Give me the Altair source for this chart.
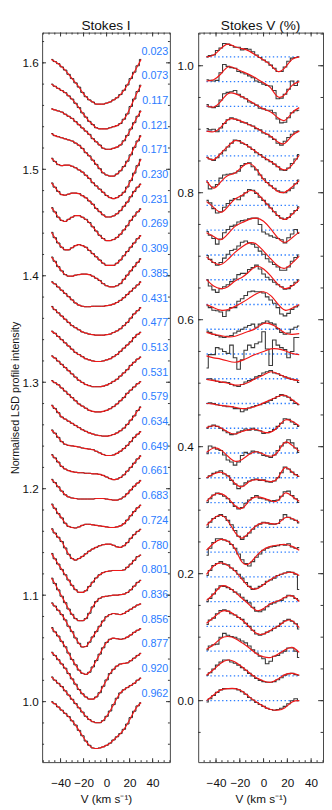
import altair as alt
import pandas as pd

# ---------------- data ----------------
PHASES = ["0.023", "0.073", "0.117", "0.121", "0.171", "0.230", "0.231", "0.269", "0.309",
          "0.385", "0.431", "0.477", "0.513", "0.531", "0.579", "0.634", "0.649", "0.661",
          "0.683", "0.724", "0.780", "0.801", "0.836", "0.856", "0.877", "0.920", "0.962"]

# velocity bins of the observed LSD profiles (km/s)
VEL = [-48, -45, -42, -39, -36, -33, -30, -27, -24, -21, -18, -15, -12, -9, -6, -3,
       0, 3, 6, 9, 12, 15, 18, 21, 24, 27, 30]
# velocity nodes of the model (fitted) Stokes V curves (km/s)
VEL_MODEL = [-48, -42, -36, -30, -24, -18, -12, -6, 0, 6, 12, 18, 24, 30]

# Stokes I line depth below continuum, in units of 0.001, one row per phase
I_DEPTH = [
    [0, 2, 4, 7, 10, 14, 18, 22, 26, 31, 35, 38, 40, 42, 42, 42, 41, 40, 38, 36, 33, 29, 24, 18, 12, 6, 0],
    [0, 2, 4, 6, 8, 11, 14, 18, 22, 27, 31, 35, 38, 41, 42, 42, 42, 41, 40, 39, 37, 33, 28, 21, 14, 7, 1],
    [0, 1, 2, 3, 5, 7, 9, 12, 15, 18, 21, 24, 28, 31, 34, 37, 38, 38, 37, 36, 34, 30, 25, 19, 13, 7, 2],
    [0, 2, 3, 4, 5, 6, 7, 9, 11, 14, 18, 21, 25, 29, 33, 37, 39, 40, 40, 38, 35, 31, 26, 20, 13, 7, 2],
    [0, 3, 6, 7, 6.5, 6.5, 7.5, 9, 11, 13, 16, 19, 23, 26, 29, 32, 35, 37, 38, 37, 35, 32, 27, 21, 14, 7, 1],
    [0, 4, 8, 11, 11.5, 10.5, 9.5, 9.5, 10, 12, 14, 17, 20, 24, 27, 30, 32, 32, 31, 29, 26, 22, 18, 13, 8, 4, 1],
    [0, 4, 9, 12, 13, 11, 9, 7.5, 7.5, 9, 11, 14, 18, 22, 26, 29, 31, 31, 30, 28, 25, 21, 17, 12, 8, 4, 1],
    [0, 5, 10, 14, 16.5, 16.5, 14.5, 12.5, 11.5, 12.5, 14, 17, 20, 23, 26, 29, 31, 31, 31, 29, 26, 22, 18, 14, 10, 6, 3],
    [0, 4, 9, 13, 16.5, 18, 18, 17, 16.5, 16, 16, 16.5, 18, 20, 22, 25, 27, 28, 28, 27, 25, 21, 17, 13, 9, 5, 1.5],
    [0, 2, 5, 8, 11, 14, 17, 20, 22, 23, 23.5, 23.5, 23, 23, 23, 23, 22.5, 22, 21, 19.5, 17.5, 15, 12, 9, 6, 3, 0],
    [0, 3, 6, 9, 12, 15, 18, 20, 22, 24, 25, 26, 26.5, 27, 27, 27, 26.5, 26, 24.5, 23, 21, 18, 15, 11, 7, 4, 1],
    [0, 2, 5, 8, 11, 14, 17, 20, 22, 24, 26, 27, 28, 28.5, 28.5, 28, 27, 26, 24, 22, 19, 16, 13, 10, 6, 3, 1],
    [0, 2, 5, 8, 11, 14, 17, 20, 23, 25, 27, 28, 29, 29, 29, 28.5, 27.5, 26, 24, 22, 19, 16, 13, 9, 6, 3, 1],
    [0, 2, 4, 7, 10, 13, 16, 19, 22, 24, 26, 28, 29, 29.5, 29.5, 29, 28, 26.5, 24.5, 22, 19, 16, 12, 9, 6, 3, 1],
    [0, 3, 7, 11, 13, 15, 17, 19, 21, 23, 24.5, 26, 27, 28, 28.5, 29, 29, 28.5, 27.5, 26, 24, 21.5, 18, 14, 10, 5, 1.5],
    [0, 3, 7, 11, 13.5, 14.5, 15, 15.5, 16, 17, 17.5, 18, 18.5, 20, 21.5, 23, 24, 24, 23.5, 22, 20, 17.5, 14.5, 11, 7, 4, 1.5],
    [0, 3, 7, 11, 13.5, 15, 16, 16.5, 17, 17, 17.5, 17.5, 18, 18, 18.5, 19.5, 21, 22.5, 23.5, 23, 21.5, 19, 15.5, 12, 8, 4, 1],
    [0, 3, 7, 11, 14.5, 16.5, 17.5, 18, 18.5, 18.5, 18.5, 18.5, 18.5, 18, 18, 18, 18.5, 19, 19.5, 19.5, 18.5, 16.5, 13.5, 10, 6.5, 3.5, 1],
    [0, 4, 9, 13, 18, 21, 22, 22.5, 21.5, 20, 19, 19, 19.5, 20, 20.5, 21, 21.5, 22, 22, 21.5, 20.5, 18.5, 15, 11, 7, 3.5, 1],
    [0, 4, 8, 12, 18, 24, 28, 29.5, 28, 26, 23.5, 21, 19, 17.5, 16, 15, 14.5, 14.5, 15.5, 17, 17.5, 16, 13, 9, 5.5, 2.5, 0.5],
    [0, 5, 10, 15, 20, 25, 30, 34, 36.5, 36.5, 35, 31, 27, 23, 20, 18, 17, 16.5, 16, 16, 16, 15.5, 13, 10, 6.5, 3, 1.5],
    [0, 5, 11, 17, 23, 29, 34, 38, 40, 40, 38, 33, 27, 22, 19, 17.5, 17, 16.5, 16, 16, 15.5, 15, 13.5, 11, 7.5, 4, 2],
    [0, 3, 7, 11, 16, 22, 27, 33, 38, 41.5, 41, 37, 32, 27, 22, 17, 13, 11, 10, 10.5, 11, 10, 8, 6, 4, 2, 1],
    [0, 4, 8, 13, 18, 24, 30, 35, 40, 43, 44, 42, 37, 31, 25, 19, 14, 11, 10, 10.5, 11, 10.5, 9, 7, 4.5, 2.5, 1],
    [0, 3, 7, 11, 15, 20, 25, 30, 35, 39, 42, 44, 44, 42, 38, 32, 26, 20, 16, 13, 11, 10.5, 10, 8, 5.5, 3, 1],
    [0, 3, 6, 9, 13, 17, 21, 25, 29, 33, 37, 40, 42, 43, 43, 41, 37, 32, 26, 20, 15, 12, 10, 8, 6, 3, 1],
    [0, 2, 5, 8, 11, 14, 18, 22, 27, 32, 37, 41, 43.5, 44, 43.5, 42.5, 41, 39, 36, 33, 30, 26, 21, 15, 9, 4, 1],
]

# Stokes V observed, units of 0.001 (%), one row per phase, at VEL
V_OBS = [
    [0, 2, 3, 10, 14, 21, 20, 18, 15, 15, 11, 13, 12, 8, 3, -1, -5, -8, -13, -18, -23, -23, -16, -7, -2, -1, 0],
    [3, 2, 1, 2, 14, 27, 24, 22, 21, 16, 14, 12, 9, 6, 1, -1, -4, -6, -7, -14, -27, -26, -20, -12, 1, -6, 1],
    [3, -1, -2, 0, 10, 20, 22, 23, 25, 19, 15, 12, 7, 5, 2, -3, -4, -6, -6, -10, -20, -26, -25, -18, -10, -7, -6],
    [4, 2, 3, -1, 5, 12, 18, 21, 19, 17, 14, 13, 10, 8, 4, 2, -3, -5, -9, -13, -19, -22, -16, -10, -5, -1, 0],
    [-2, -5, -7, -3, 3, 8, 14, 20, 25, 24, 20, 18, 14, 10, 5, 2, -2, -6, -9, -13, -17, -22, -23, -19, -12, -5, 2],
    [-3, -13, -10, -6, 4, 9, 10, 11, 12, 15, 24, 27, 28, 22, 17, 9, 3, -3, -8, -12, -16, -18, -19, -16, -12, -5, 1],
    [8, 4, -5, -12, -10, -3, 3, 8, 11, 9, 15, 20, 25, 24, 19, 13, 8, 2, -4, -10, -16, -20, -22, -19, -13, -8, -2],
    [-2, -8, -13, -22, -14, -4, 1, 6, 8, 13, 15, 16, 18, 19, 19, 9, -3, -6, -9, -11, -13, -15, -20, -12, -6, 1, -5],
    [-1, -7, -12, -16, -12, -5, 1, 7, 9, 14, 20, 22, 19, 17, 12, 6, 1, -6, -11, -15, -19, -24, -24, -19, -10, -4, 0],
    [0, -10, -16, -20, -14, -11, -8, -3, 1, 8, 10, 10, 16, 19, 23, 17, 9, 4, 0, -4, -8, -11, -15, -14, -9, -4, 0],
    [-2, -5, -9, -10, -12, -19, -10, -5, -5, 5, 9, 14, 20, 21, 20, 20, 18, 12, 7, 2, -5, -15, -18, -14, -8, -4, -2],
    [-3, -5, -8, -10, -12, -13, -11, -10, -6, -3, 0, 3, 6, 8, 3, 8, 10, 13, 10, 8, 1, -5, -8, -6, 0, 3, 5],
    [-22, -1, -1, 10, 8, 4, 1, 14, -6, -24, -9, 6, 14, 10, 16, 19, 35, 8, -18, 22, 14, 10, 7, -6, 4, 26, 26],
    [-1, 0, -2, -4, -6, -5, -6, -9, -11, -12, -9, -5, -3, -1, 3, 5, 9, 11, 13, 9, 8, 5, 3, 1, -1, -2, -6],
    [0, 1, 0, -2, -3, -4, -5, -5, -8, -8, -13, -10, -7, -5, -3, -2, 0, 2, 5, 8, 11, 14, 12, 10, 5, 0, -2],
    [0, 3, 5, 3, 0, -4, -7, -10, -9, -6, -4, -1, -3, 0, -3, -4, -8, -7, -5, -2, 3, 8, 15, 14, 10, 6, 3],
    [-1, 11, 9, 6, 4, -3, -11, -14, -19, -14, -4, 1, -1, 3, 2, 0, -4, -5, -7, -3, 4, 11, 16, 21, 16, 8, 1],
    [0, 3, 7, 9, 11, 6, 3, -4, -10, -17, -13, -8, -5, -3, -2, -4, -3, -6, -7, -5, 0, 8, 17, 14, 9, 5, 2],
    [0, 6, 12, 15, 13, 10, 6, 0, -6, -10, -8, -1, 4, 8, 11, 7, 6, 4, 2, 3, 4, 10, 17, 18, 11, 6, 0],
    [0, 8, 14, 17, 20, 17, 11, 4, -5, -14, -19, -14, -9, -3, 2, 5, 8, 7, 5, 5, 6, 12, 20, 16, 13, 11, 7],
    [-5, 6, 15, 21, 21, 19, 17, 12, 6, -3, -12, -18, -22, -15, -8, -3, 3, 6, 8, 9, 10, 12, 11, 13, 8, 6, 7],
    [2, 10, 18, 21, 24, 20, 19, 14, 10, 4, -2, -9, -15, -20, -18, -15, -12, -7, -5, -2, 2, 4, 6, 8, 7, 4, -20],
    [0, 5, 12, 20, 25, 24, 22, 19, 15, 12, 7, 2, -2, -9, -15, -16, -13, -8, -4, -2, 1, 2, 6, 10, 9, 5, 2],
    [3, 10, 13, 20, 25, 26, 24, 20, 18, 14, 11, 5, 0, -6, -12, -14, -12, -9, -7, -3, 0, 5, 9, 11, 8, 4, -4],
    [2, 8, 10, 11, 22, 28, 25, 23, 22, 19, 16, 13, 8, 2, -3, -8, -12, -20, -16, -8, -7, -3, 0, 5, 5, 0, -10],
    [1, 5, 11, 17, 22, 25, 25, 22, 20, 17, 13, 9, 4, 0, -4, -7, -9, -10, -10, -9, -6, -3, 1, 3, 4, 2, 1],
    [-2, 3, 8, 13, 17, 19, 19, 19, 19, 17, 14, 10, 5, 1, -3, -6, -9, -12, -14, -15, -14, -12, -9, -5, 0, 3, 0],
]

# Stokes V model, units of 0.001 (%), one row per phase, at VEL_MODEL
V_MODEL = [
    [0, 3, 13, 20, 16, 13, 9, 2, -5, -13, -23, -17, -4, 0],
    [1, 3, 12, 23, 21, 16, 11, 5, -2, -10, -24, -20, -6, 0],
    [1, -1, 8, 20, 20, 15, 9, 2, -4, -9, -18, -22, -10, -2],
    [0, -1, 6, 18, 19, 15, 10, 5, -2, -8, -17, -19, -7, 0],
    [-2, -6, 4, 15, 24, 21, 14, 6, -2, -9, -17, -22, -14, 1],
    [0, -12, -2, 8, 12, 22, 27, 18, 2, -8, -17, -18, -10, 0],
    [6, -3, -11, -2, 10, 16, 23, 20, 8, -4, -16, -22, -14, -3],
    [-4, -10, -15, -6, 6, 12, 17, 19, 14, 2, -12, -19, -12, -3],
    [-3, -12, -15, -7, 4, 13, 19, 17, 6, -6, -17, -21, -13, -2],
    [0, -10, -14, -11, -2, 4, 13, 21, 17, 6, -7, -14, -10, -1],
    [0, -5, -9, -8, -3, 3, 10, 17, 20, 14, 1, -9, -6, 0],
    [-5, -8, -10, -12, -11, -7, -3, 2, 9, 8, 2, -6, -8, -7],
    [-3, -6, -8, -11, -13, -10, -5, 0, 4, 8, 8, 5, 1, -1],
    [-1, -3, -5, -7, -10, -9, -5, 1, 6, 11, 8, 3, -1, -3],
    [0, -1, -3, -4, -6, -8, -7, -4, 1, 6, 11, 13, 6, -2],
    [1, 4, 1, -6, -9, -5, -2, -2, -6, -6, 2, 13, 11, 4],
    [1, 8, 5, -5, -13, -10, -2, 2, -2, -5, 2, 17, 12, 3],
    [0, 6, 9, 3, -9, -14, -6, -3, -4, -6, 0, 16, 9, 2],
    [2, 12, 14, 7, -5, -9, 3, 9, 7, 3, 3, 15, 10, 2],
    [3, 14, 19, 10, -8, -17, -8, 3, 7, 6, 6, 15, 14, 8],
    [3, 14, 20, 17, 5, -16, -18, -6, 4, 9, 11, 12, 9, 3],
    [4, 17, 22, 18, 9, -4, -16, -19, -12, -4, 2, 6, 7, 2],
    [2, 12, 24, 23, 15, 5, -5, -14, -11, -3, 1, 7, 9, 0],
    [5, 14, 23, 24, 18, 10, -1, -11, -12, -6, 0, 8, 9, -2],
    [3, 10, 20, 23, 20, 13, 5, -4, -9, -10, -5, 2, 6, -2],
    [1, 10, 20, 25, 22, 14, 5, -3, -8, -10, -5, 2, 4, 1],
    [0, 9, 17, 19, 19, 15, 6, -2, -9, -14, -15, -11, -2, 0],
]

I_STEP = 0.0232      # vertical shift between successive Stokes I profiles
V_STEP = 0.039       # vertical shift between successive Stokes V profiles
LABEL_LIFT = 0.0073  # phase label sits just above its profile's continuum
LABEL_V = 53.6       # label anchor (right aligned) in km/s

# ---------------- build tables ----------------
n = len(PHASES)
rows_i, rows_vo, rows_vm, rows_zero, rows_lab = [], [], [], [], []
for k, ph in enumerate(PHASES):
    ib = 1.0 + (n - 1 - k) * I_STEP
    vb = (n - 1 - k) * V_STEP
    for v, d in zip(VEL, I_DEPTH[k]):
        rows_i.append({"phase": ph, "v": v, "y": ib - d / 1000.0})
    for v, d in zip(VEL, V_OBS[k]):
        rows_vo.append({"phase": ph, "v": v, "y": vb + d / 1000.0})
    for v, d in zip(VEL_MODEL, V_MODEL[k]):
        rows_vm.append({"phase": ph, "v": v, "y": vb + d / 1000.0})
    rows_zero.append({"phase": ph, "v": VEL[0], "v2": VEL[-1], "y": vb})
    rows_lab.append({"phase": ph, "v": LABEL_V, "y": ib + LABEL_LIFT})

df_i = pd.DataFrame(rows_i)
df_vo = pd.DataFrame(rows_vo)
df_vm = pd.DataFrame(rows_vm)
df_zero = pd.DataFrame(rows_zero)
df_lab = pd.DataFrame(rows_lab)

# ---------------- styling ----------------
FONT = "Liberation Sans"
H = 748
W_I, W_V = 131, 128
RED = "#f01818"
BLUE = "#2a7cff"
TICK = "#333333"
XT = "V (km s\u207b\u00b9)"


def make_x(domain):
    return alt.X("v:Q", scale=alt.Scale(domain=domain, nice=False, zero=False),
                 axis=alt.Axis(values=[-40, -20, 0, 20, 40], title=XT, labelPadding=16,
                               titlePadding=5, labelFlush=False, titleFontSize=12))


def make_y(domain, values, title, pad, tpad):
    ax = alt.Axis(values=values, format=".1f", labelPadding=pad, labelFlush=False,
                  title=title, titleFontSize=11, titlePadding=tpad)
    return alt.Y("y:Q", scale=alt.Scale(domain=domain, nice=False, zero=False), axis=ax)


def frange(a, b, s):
    out, x = [], a
    while x <= b + 1e-9:
        out.append(round(x, 4))
        x += s
    return out


def tick_layers(xe, ye, width, xminor, xmajor, yminor, ymajor, ylen_major, ylen_minor):
    layers = []
    for vals, ln in ((yminor, ylen_minor), (ymajor, ylen_major)):
        d = pd.DataFrame({"y": vals})
        base = alt.Chart(d).mark_rule(color=TICK, strokeWidth=1)
        layers.append(base.encode(y=ye, x=alt.value(0), x2=alt.value(ln)))
        layers.append(base.encode(y=ye, x=alt.value(width - ln), x2=alt.value(width)))
    for vals, ln in ((xminor, 2), (xmajor, 4)):
        d = pd.DataFrame({"v": vals})
        base = alt.Chart(d).mark_rule(color=TICK, strokeWidth=1)
        layers.append(base.encode(x=xe, y=alt.value(H), y2=alt.value(H - ln)))
        layers.append(base.encode(x=xe, y=alt.value(0), y2=alt.value(ln)))
    return layers


def title_layer(text, width):
    return alt.Chart(pd.DataFrame({"t": [text]})).mark_text(
        font=FONT, fontSize=14, baseline="alphabetic", align="center", color="#111"
    ).encode(text="t:N", x=alt.value(width / 2), y=alt.value(-3))


# ---------------- Stokes I panel ----------------
xi = make_x([-56, 55])
yi = make_y([0.9432, 1.6284], [1.0, 1.1, 1.2, 1.3, 1.4, 1.5, 1.6],
            "Normalised LSD profile intensity", 4, 2)

obs_i = alt.Chart(df_i).mark_line(interpolate="step", color="#111111", strokeWidth=0.9).encode(
    x=xi, y=yi, detail="phase:N")
mod_i = alt.Chart(df_i).mark_line(interpolate="monotone", color=RED, strokeWidth=1.2).encode(
    x=xi, y=yi, detail="phase:N")
lab_i = alt.Chart(df_lab).mark_text(align="right", baseline="middle", font=FONT, fontSize=11,
                                    color=BLUE).encode(x=xi, y=yi, text="phase:N")

ticks_i = tick_layers(xi, yi, W_I, frange(-55, 55, 5), [-40, -20, 0, 20, 40],
                      frange(0.96, 1.62, 0.02), frange(1.0, 1.6, 0.1), 4, 2)

left = alt.layer(*ticks_i, obs_i, mod_i, lab_i, title_layer("Stokes I", W_I)).properties(
    width=W_I, height=H)

# ---------------- Stokes V panel ----------------
xv = make_x([-55, 50])
yv = make_y([-0.0968, 1.0522], [0.0, 0.2, 0.4, 0.6, 0.8, 1.0], None, 5, 2)

zero_v = alt.Chart(df_zero).mark_rule(color=BLUE, strokeWidth=1.4, strokeDash=[1.4, 2.6]).encode(
    x=xv, x2="v2:Q", y=yv, detail="phase:N")
obs_v = alt.Chart(df_vo).mark_line(interpolate="step", color="#3a3a3a", strokeWidth=1.1).encode(
    x=xv, y=yv, detail="phase:N")
mod_v = alt.Chart(df_vm).mark_line(interpolate="natural", color=RED, strokeWidth=1.2).encode(
    x=xv, y=yv, detail="phase:N")

ticks_v = tick_layers(xv, yv, W_V, frange(-50, 50, 5), [-40, -20, 0, 20, 40],
                      frange(-0.05, 1.05, 0.05), frange(0.0, 1.0, 0.2), 5, 2.5)

right = alt.layer(*ticks_v, zero_v, obs_v, mod_v, title_layer("Stokes V (%)", W_V)).properties(
    width=W_V, height=H)

chart = alt.hconcat(left, right, spacing=5).properties(
    padding={"left": 0, "top": 0, "right": 0, "bottom": 0})
chart = chart.configure_view(stroke="#444444", strokeWidth=1).configure_axis(
    grid=False, ticks=False, domain=False, labelFont=FONT, titleFont=FONT,
    labelFontSize=12, labelColor="#111111", titleColor="#111111", titleFontWeight="normal")

chart.save("out.html", embed_options={"renderer": "svg", "actions": False})
